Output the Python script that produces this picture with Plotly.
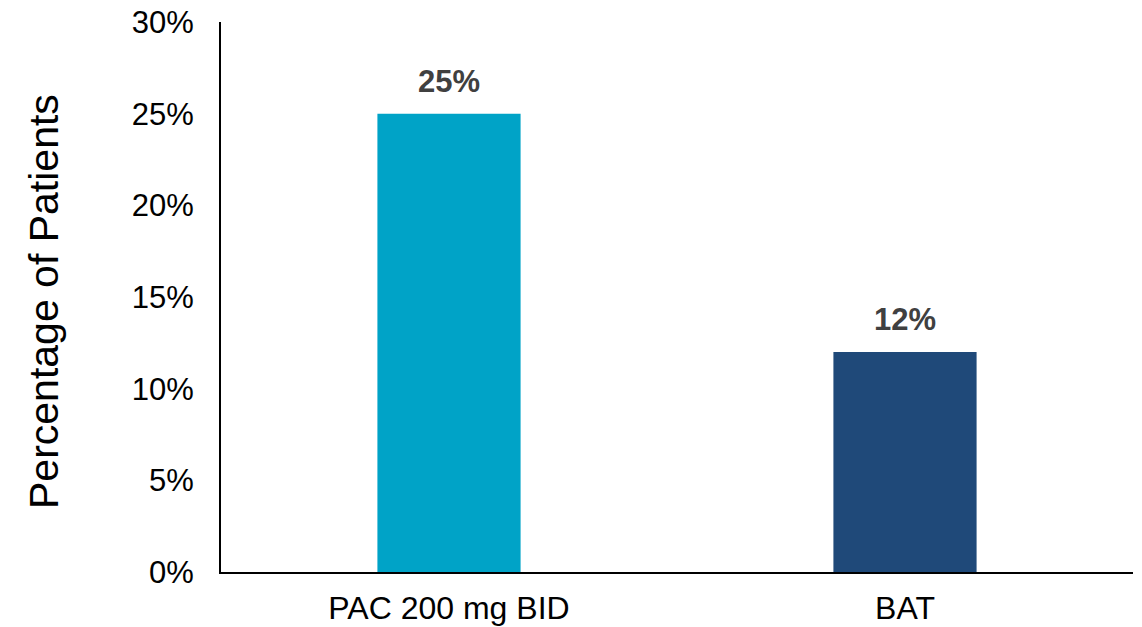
import plotly.graph_objects as go

# Share of patients per treatment arm (%)
groups = ["PAC 200 mg BID", "BAT"]
pct_patients = [25, 12]
bar_colors = ["#00A3C7", "#1F4979"]

y_ticks = [0, 5, 10, 15, 20, 25, 30]
y_tick_labels = [f"{t}%" for t in y_ticks]

FONT = "Liberation Sans, Arial, sans-serif"

fig = go.Figure(
    go.Bar(
        x=groups,
        y=pct_patients,
        marker=dict(color=bar_colors, line=dict(width=0)),
        width=0.314,
        hoverinfo="skip",
    )
)

# value labels above each bar
for g, v in zip(groups, pct_patients):
    fig.add_annotation(
        x=g, y=v, text=f"<b>{v}%</b>", showarrow=False,
        yanchor="bottom", yshift=13,
        font=dict(family=FONT, size=31, color="#404040"),
    )

# vertical y-axis title
fig.add_annotation(
    text="Percentage of Patients", textangle=-90, showarrow=False,
    xref="paper", yref="paper", x=0, y=0.5,
    xanchor="center", yanchor="middle", xshift=-177, yshift=-5,
    font=dict(family=FONT, size=41, color="black"),
)

fig.update_layout(
    width=1142, height=627,
    margin=dict(l=221, r=9, t=22, b=55),
    paper_bgcolor="white", plot_bgcolor="white",
    showlegend=False,
    font=dict(family=FONT, color="black"),
)

fig.update_xaxes(
    showline=True, linecolor="black", linewidth=2,
    showgrid=False, ticks="", zeroline=False,
    tickfont=dict(family=FONT, size=32, color="black"),
    ticklabelstandoff=7, automargin=False,
)

fig.update_yaxes(
    range=[0, 30], tickmode="array", tickvals=y_ticks, ticktext=y_tick_labels,
    showline=True, linecolor="black", linewidth=2,
    showgrid=False, ticks="", zeroline=False,
    tickfont=dict(family=FONT, size=31, color="black"),
    ticklabelstandoff=19, automargin=False,
)

fig.write_html("out.html")
